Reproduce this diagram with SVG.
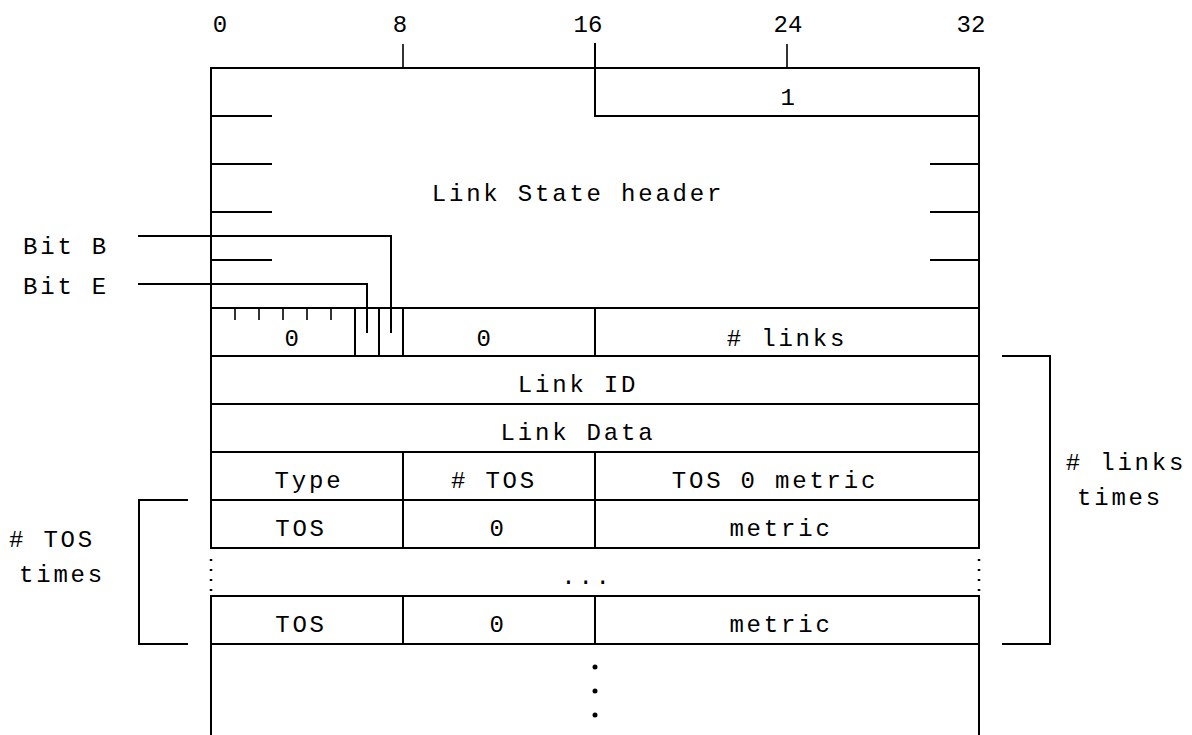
<svg xmlns="http://www.w3.org/2000/svg" width="1192" height="735" viewBox="0 0 1192 735">
  <style>
    .ln { stroke: #000; stroke-width: 2; fill: none; stroke-linecap: square; }
    .tk { stroke: #000; stroke-width: 1.6; fill: none; }
    .dot { stroke: #000; stroke-width: 2.5; fill: none; stroke-dasharray: 2 8; }
    text { font-family: "Liberation Mono", "Courier New", monospace; font-size: 24px; fill: #000; letter-spacing: 2.8px; text-anchor: middle; }
    .num { letter-spacing: 0; }
  </style>
  <rect width="1192" height="735" fill="#fff"/>

  <!-- bit scale -->
  <g id="scale">
    <text class="num" x="220" y="32">0</text>
    <text class="num" x="400" y="32">8</text>
    <text class="num" x="588" y="32">16</text>
    <text class="num" x="788" y="32">24</text>
    <text class="num" x="971" y="32">32</text>
    <line class="tk" x1="403" y1="44" x2="403" y2="68"/>
    <line class="tk" x1="787" y1="44" x2="787" y2="68"/>
  </g>

  <!-- LSA header block -->
  <g id="header">
    <line class="ln" x1="211" y1="68" x2="979" y2="68"/>
    <line class="ln" x1="595" y1="44" x2="595" y2="116"/>
    <line class="ln" x1="595" y1="116" x2="979" y2="116"/>
    <line class="ln" x1="211" y1="116" x2="271" y2="116"/>
    <line class="ln" x1="211" y1="164" x2="271" y2="164"/>
    <line class="ln" x1="211" y1="212" x2="271" y2="212"/>
    <line class="ln" x1="211" y1="260" x2="271" y2="260"/>
    <line class="ln" x1="931" y1="164" x2="979" y2="164"/>
    <line class="ln" x1="931" y1="212" x2="979" y2="212"/>
    <line class="ln" x1="931" y1="260" x2="979" y2="260"/>
    <text x="789" y="105">1</text>
    <text x="578" y="201">Link State header</text>
  </g>

  <!-- flags / #links word -->
  <g id="flags-row">
    <line class="tk" x1="235" y1="308" x2="235" y2="320"/>
    <line class="tk" x1="259" y1="308" x2="259" y2="320"/>
    <line class="tk" x1="283" y1="308" x2="283" y2="320"/>
    <line class="tk" x1="307" y1="308" x2="307" y2="320"/>
    <line class="tk" x1="331" y1="308" x2="331" y2="320"/>
    <line class="ln" x1="355" y1="308" x2="355" y2="356"/>
    <line class="ln" x1="379" y1="308" x2="379" y2="356"/>
    <line class="ln" x1="403" y1="308" x2="403" y2="356"/>
    <line class="ln" x1="595" y1="308" x2="595" y2="356"/>
    <text x="293" y="346">0</text>
    <text x="485" y="346">0</text>
    <text x="787" y="346"># links</text>
  </g>

  <g id="link-id"><text x="578" y="392">Link ID</text></g>
  <g id="link-data"><text x="578" y="440">Link Data</text></g>

  <g id="type-row">
    <line class="ln" x1="403" y1="452" x2="403" y2="500"/>
    <line class="ln" x1="595" y1="452" x2="595" y2="500"/>
    <text x="309" y="488">Type</text>
    <text x="494" y="488"># TOS</text>
    <text x="775" y="488">TOS 0 metric</text>
  </g>

  <g id="tos-row-1">
    <line class="ln" x1="403" y1="500" x2="403" y2="548"/>
    <line class="ln" x1="595" y1="500" x2="595" y2="548"/>
    <text x="301" y="536">TOS</text>
    <text x="498" y="536">0</text>
    <text x="781" y="536">metric</text>
  </g>

  <g id="tos-gap">
    <line class="dot" x1="211" y1="559" x2="211" y2="591"/>
    <line class="dot" x1="979" y1="559" x2="979" y2="591"/>
    <text x="587" y="584">...</text>
  </g>

  <g id="tos-row-n">
    <line class="ln" x1="403" y1="596" x2="403" y2="644"/>
    <line class="ln" x1="595" y1="596" x2="595" y2="644"/>
    <text x="301" y="632">TOS</text>
    <text x="498" y="632">0</text>
    <text x="781" y="632">metric</text>
  </g>

  <g id="continuation">
    <circle cx="595" cy="667" r="2.5"/>
    <circle cx="595" cy="691" r="2.5"/>
    <circle cx="595" cy="715" r="2.5"/>
  </g>

  <!-- frame and row separators -->
  <g id="frame">
    <line class="ln" x1="211" y1="68" x2="211" y2="548"/>
    <line class="ln" x1="979" y1="68" x2="979" y2="548"/>
    <line class="ln" x1="211" y1="596" x2="211" y2="740"/>
    <line class="ln" x1="979" y1="596" x2="979" y2="740"/>
    <line class="ln" x1="211" y1="308" x2="979" y2="308"/>
    <line class="ln" x1="211" y1="356" x2="979" y2="356"/>
    <line class="ln" x1="211" y1="404" x2="979" y2="404"/>
    <line class="ln" x1="211" y1="452" x2="979" y2="452"/>
    <line class="ln" x1="211" y1="500" x2="979" y2="500"/>
    <line class="ln" x1="211" y1="548" x2="979" y2="548"/>
    <line class="ln" x1="211" y1="596" x2="979" y2="596"/>
    <line class="ln" x1="211" y1="644" x2="979" y2="644"/>
  </g>

  <!-- annotations -->
  <g id="bit-b">
    <text x="66" y="254">Bit B</text>
  </g>
  <g id="bit-e">
    <text x="66" y="294">Bit E</text>
  </g>
  <g id="tos-times">
    <text x="52" y="547"># TOS</text>
    <text x="62" y="582">times</text>
  </g>
  <g id="links-times">
    <text x="1126" y="470"># links</text>
    <text x="1120" y="505">times</text>
  </g>

  <g id="connectors">
    <polyline class="ln" points="139,236 391,236 391,332"/>
    <polyline class="ln" points="139,284 367,284 367,332"/>
    <polyline class="ln" points="187,500 139,500 139,644 187,644"/>
    <polyline class="ln" points="1003,356 1050,356 1050,644 1003,644"/>
  </g>
</svg>
